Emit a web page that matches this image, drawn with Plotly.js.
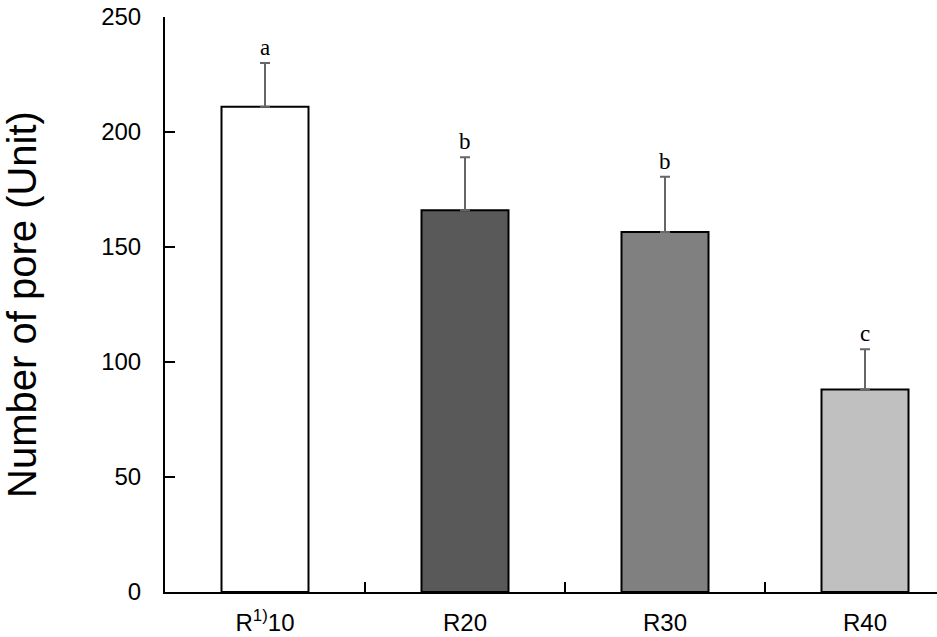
<!DOCTYPE html>
<html>
<head>
<meta charset="utf-8">
<script src="https://cdn.plot.ly/plotly-3.0.1.min.js"></script>
<style>html,body{margin:0;padding:0;background:#fff;}#chart{width:937px;height:637px;}</style>
</head>
<body>
<div id="chart"></div>
<script>
const categories = ["R<sup>1)</sup>10", "R20", "R30", "R40"];
const values = [211, 166, 156.5, 88];
const errors = [19, 23, 24, 17.5];
const letters = ["a", "b", "b", "c"];
const barColors = ["#ffffff", "#595959", "#808080", "#c0c0c0"];
const yTicks = [0, 50, 100, 150, 200, 250];

const trace = {
  type: "bar",
  x: categories,
  y: values,
  width: 0.435,
  marker: { color: barColors, line: { color: "#000", width: 2 } },
  error_y: {
    type: "data",
    symmetric: false,
    array: errors,
    arrayminus: errors.map(() => 0),
    color: "#666666",
    thickness: 2,
    width: 5
  },
  hoverinfo: "none"
};

const annotations = categories.map((c, i) => ({
  x: c, y: values[i] + errors[i],
  text: letters[i], showarrow: false,
  yanchor: "bottom", yshift: 1,
  font: { family: "Liberation Serif, Times New Roman, serif", size: 23, color: "#000" }
}));

const layout = {
  width: 937, height: 637,
  margin: { l: 165, r: 0, t: 17, b: 45 },
  paper_bgcolor: "#fff", plot_bgcolor: "#fff",
  showlegend: false,
  font: { family: "Liberation Sans, Arial, sans-serif", color: "#000" },
  xaxis: {
    type: "category",
    range: [-0.5, 3.36],
    showline: true, linecolor: "#000", linewidth: 2,
    ticks: "inside", ticklen: 10, tickwidth: 2, tickcolor: "#000",
    tickson: "boundaries",
    tickfont: { size: 24 },
    ticklabelstandoff: 8,
    showgrid: false, zeroline: false
  },
  yaxis: {
    range: [0, 250],
    tickvals: yTicks,
    showline: true, linecolor: "#000", linewidth: 2,
    ticks: "inside", ticklen: 10, tickwidth: 2, tickcolor: "#000",
    tickfont: { size: 24 },
    ticklabelstandoff: 17,
    showgrid: false, zeroline: false,
    title: { text: "Number of pore (Unit)", font: { size: 40 }, standoff: 56 }
  },
  annotations: annotations
};

Plotly.newPlot("chart", [trace], layout, { displayModeBar: false, staticPlot: true });
</script>
</body>
</html>
